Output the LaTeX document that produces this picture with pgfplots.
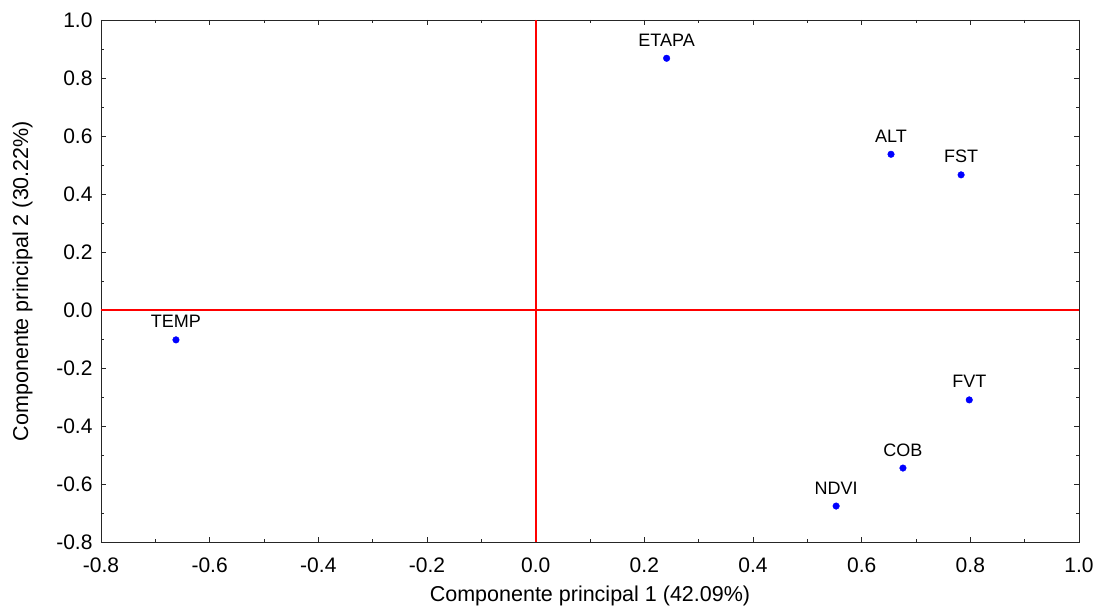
\documentclass[border=0pt]{standalone}
\usepackage{pgfplots}
\usepackage{pgfplotstable}
\pgfplotsset{compat=1.18}
\usepackage{fontspec}
\setmainfont{Liberation Sans}
\definecolor{refred}{RGB}{255,0,0}
\definecolor{refblue}{RGB}{0,0,255}
\pgfplotstableread{
x y label
0.241 0.868 ETAPA
0.654 0.537 ALT
0.783 0.466 FST
-0.662 -0.103 TEMP
0.798 -0.310 FVT
0.676 -0.545 COB
0.553 -0.676 NDVI
}\loadings
\pgfplotstableread{
x y
0 -0.8
0 1.0
}\zerolineV
\pgfplotstableread{
x y
-0.8 0
1.0 0
}\zerolineH
\begin{document}
\begin{tikzpicture}
\begin{axis}[
  scale only axis, width=978pt, height=522pt,
  xmin=-0.8, xmax=1.0, ymin=-0.8, ymax=1.0,
  xtick={-0.8,-0.6,-0.4,-0.2,0,0.2,0.4,0.6,0.8,1.0},
  ytick={-0.8,-0.6,-0.4,-0.2,0,0.2,0.4,0.6,0.8,1.0},
  xticklabels={-0.8,-0.6,-0.4,-0.2,0.0,0.2,0.4,0.6,0.8,1.0},
  yticklabels={-0.8,-0.6,-0.4,-0.2,0.0,0.2,0.4,0.6,0.8,1.0},
  minor tick num=1,
  tick align=inside,
  major tick length=5pt, minor tick length=3pt,
  tick style={black!85, line width=0.7pt},
  axis line style={black!85, line width=0.9pt},
  ticklabel style={font=\fontsize{21}{24}\selectfont},
  xticklabel style={yshift=-12pt},
  yticklabel style={xshift=-5pt},
  label style={font=\fontsize{21.5}{25}\selectfont},
  xlabel={Componente principal 1 (42.09\%)},
  ylabel={Componente principal 2 (30.22\%)},
  xlabel style={at={(axis description cs:0.5,-0.1034)}, anchor=center},
  ylabel style={at={(axis description cs:-0.0803,0.5)}, anchor=center},
  clip=false,
]
\addplot[refred, line width=1.8pt, sharp plot, no markers] table[x=x, y=y] {\zerolineV};
\addplot[refred, line width=1.2pt, sharp plot, no markers] table[x=x, y=y] {\zerolineH};
\addplot[only marks, mark=*, mark size=3.3pt, refblue, mark options={fill=refblue, draw=refblue},
  nodes near coords, point meta=explicit symbolic,
  nodes near coords style={black, anchor=base, inner sep=0pt, yshift=12pt, font=\fontsize{18}{21}\selectfont}]
  table[x=x, y=y, meta=label] {\loadings};
\end{axis}
\pgfresetboundingbox
\useasboundingbox ([shift={(-101pt,-71pt)}]current axis.south west) rectangle ([shift={(17pt,20pt)}]current axis.north east);
\end{tikzpicture}
\end{document}
